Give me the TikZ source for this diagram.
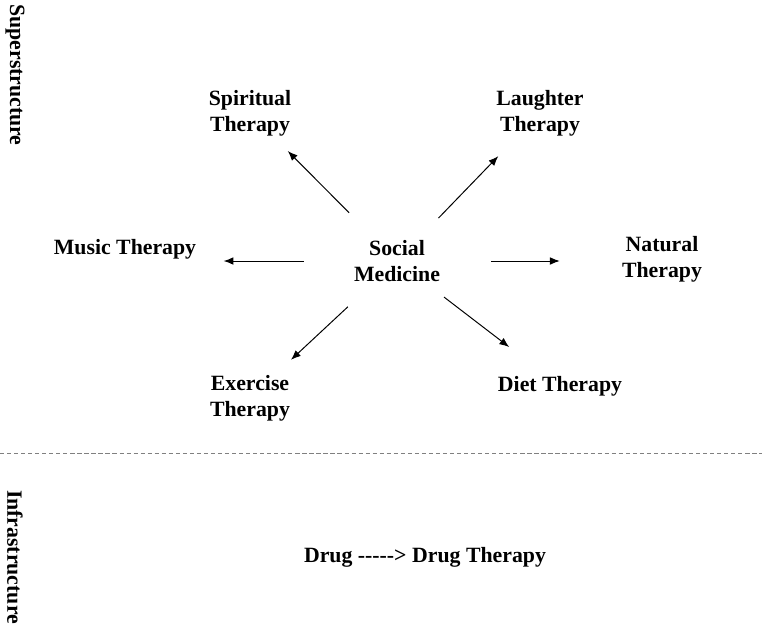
\documentclass[tikz,border=0pt]{standalone}
\usepackage{fontspec}
\setmainfont{Liberation Serif}
\usetikzlibrary{arrows.meta,calc}
\tikzset{lbl/.style={font=\fontsize{15.5}{18.4}\selectfont\bfseries, align=center, inner sep=0pt},
         arr/.style={-{Latex[length=7pt,width=5.5pt]}, line width=0.7pt}}
\begin{document}
\begin{tikzpicture}[x=0.025cm,y=-0.025cm]
\useasboundingbox (0,0) rectangle (762,627);
\node [lbl] (soc) at (397,261) {Social\\Medicine};
\node [lbl] (spi) at (250,113) {Spiritual\\Therapy};
\node [lbl] (lau) at (540,113) {Laughter\\Therapy};
\node [lbl] (mus) at (125,249) {Music Therapy};
\node [lbl] (nat) at (662,259) {Natural\\Therapy};
\node [lbl] (exe) at (250,398) {Exercise\\Therapy};
\node [lbl] (diet) at (560,386) {Diet Therapy};
\draw [arr, shorten <=1.70cm, shorten >=1.34cm] (soc.center)--(spi.center);
\draw [arr, shorten <=1.49cm, shorten >=1.50cm] (soc.center)--(lau.center);
\draw [arr, shorten <=1.25cm, shorten >=0.68cm] (soc.west)--(soc.west -| mus.east);
\draw [arr, shorten <=1.28cm, shorten >=1.55cm] (soc.east)--(soc.east -| nat.west);
\draw [arr, shorten <=1.68cm, shorten >=1.40cm] (soc.center)--(exe.center);
\draw [arr, shorten <=1.48cm, shorten >=1.60cm] (soc.center)--(diet.center);
\coordinate (cutl) at (0,453);
\coordinate (cutr) at (762,453);
\draw [densely dashed, line width=0.3pt, gray] (cutl)--(cutr);
\node [lbl, rotate=-90] (sup) at (15,75) {Superstructure};
\node [lbl, rotate=-90] (inf) at (15,557) {Infrastructure};
\node [lbl] (drug) at (425,557) {Drug -{}-{}-{}-{}-> Drug Therapy};
\end{tikzpicture}
\end{document}
